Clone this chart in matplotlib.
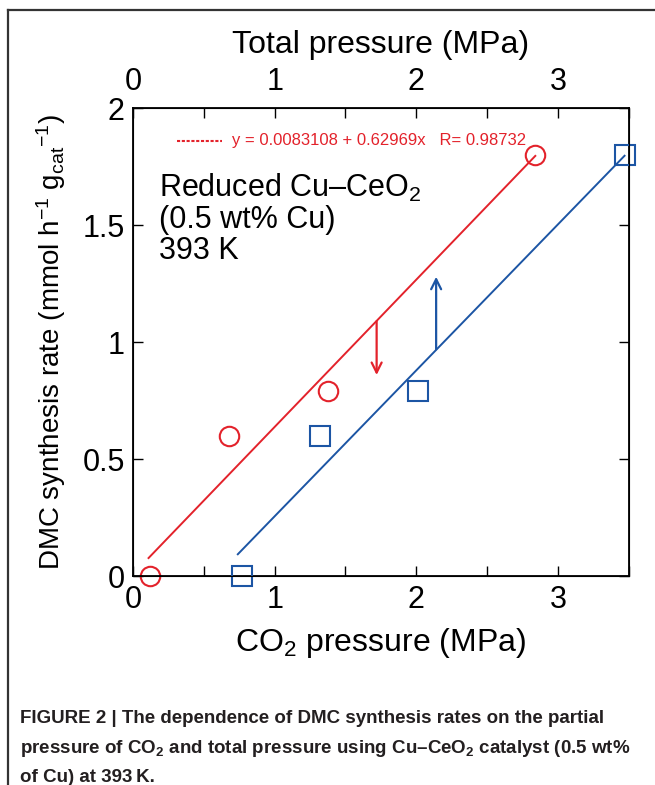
import numpy as np
import matplotlib
matplotlib.use('Agg')
import matplotlib.pyplot as plt
from matplotlib.lines import Line2D

plt.rcParams['font.family'] = ['Liberation Sans', 'DejaVu Sans']
plt.rcParams['mathtext.fontset'] = 'custom'
plt.rcParams['mathtext.rm'] = 'Liberation Sans'
plt.rcParams['mathtext.it'] = 'Liberation Sans:italic'
plt.rcParams['mathtext.default'] = 'regular'

RED = '#e3222b'
BLUE = '#1c55a4'

# data
co2_p = [0.12, 0.68, 1.38, 2.84]          # red circles, CO2 pressure (MPa)
total_p = [0.77, 1.32, 2.01, 3.47]        # blue squares, total pressure (MPa)
rate = [0.0, 0.6, 0.79, 1.8]              # DMC synthesis rate

red_fit = (0.0083108, 0.62969)            # intercept, slope
red_fit_x = [0.11, 2.84]
blue_fit = (-0.368, 0.624)
blue_fit_x = [0.74, 3.47]

red_arrow_x, red_arrow_y = 1.72, [1.09, 0.86]
blue_arrow_x, blue_arrow_y = 2.14, [0.97, 1.28]

xticks = [0, 0.5, 1, 1.5, 2, 2.5, 3, 3.5]
xticklabels = ['0', '', '1', '', '2', '', '3', '']
yticks = [0, 0.5, 1, 1.5, 2]
yticklabels = ['0', '0.5', '1', '1.5', '2']

fig = plt.figure(figsize=(6.55, 7.85), dpi=100)
ax = fig.add_axes([0.203, 0.266, 0.757, 0.596])

# fit lines
rx = np.array(red_fit_x)
ax.plot(rx, red_fit[0] + red_fit[1] * rx, color=RED, lw=1.4)
bx = np.array(blue_fit_x)
ax.plot(bx, blue_fit[0] + blue_fit[1] * bx, color=BLUE, lw=1.4)

ax.plot(co2_p, rate, 'o', ms=14, mfc='none', mec=RED, mew=1.5, clip_on=False)

ax.set_xlim(0, 3.5)
ax.set_ylim(0, 2)
ax.set_xticks(xticks)
ax.set_xticklabels(xticklabels)
ax.set_yticks(yticks)
ax.set_yticklabels(yticklabels)
ax.tick_params(direction='in', length=7, width=1, labelsize=22, right=True, pad=6)
for s in ax.spines.values():
    s.set_linewidth(1.3)

ax.set_xlabel('CO$_2$ pressure (MPa)', fontsize=23, labelpad=8)
ax.set_ylabel('DMC synthesis rate (mmol h$^{-1}$ g$_{cat}$$^{-1}$)', fontsize=20, labelpad=10)

# top axis: total pressure
ax2 = ax.twiny()
ax2.set_xlim(0, 3.5)
ax2.set_xticks(xticks)
ax2.set_xticklabels(xticklabels)
ax2.tick_params(direction='in', length=7, width=1, labelsize=22, pad=8)
ax2.plot(total_p, rate, 's', ms=14, mfc='none', mec=BLUE, mew=1.5, clip_on=False)
ax2.set_xlabel('Total pressure (MPa)', fontsize=23, labelpad=10)

# arrows
ax.annotate('', xy=(red_arrow_x, red_arrow_y[1]), xytext=(red_arrow_x, red_arrow_y[0]),
            arrowprops=dict(arrowstyle='->', color=RED, lw=1.6, mutation_scale=18,
                            shrinkA=0, shrinkB=0))
ax.annotate('', xy=(blue_arrow_x, blue_arrow_y[1]), xytext=(blue_arrow_x, blue_arrow_y[0]),
            arrowprops=dict(arrowstyle='->', color=BLUE, lw=1.6, mutation_scale=18,
                            shrinkA=0, shrinkB=0))

# fit legend
ax.plot([0.089, 0.18], [0.931, 0.931], transform=ax.transAxes, color=RED,
        lw=1.5, ls=(0, (1.5, 0.8)))
ax.text(0.20, 0.931, 'y = 0.0083108 + 0.62969x   R= 0.98732', transform=ax.transAxes,
        color=RED, fontsize=12, va='center')

ax.text(0.053, 0.865, 'Reduced Cu\u2013CeO$_2$\n(0.5 wt% Cu)\n393 K', transform=ax.transAxes,
        fontsize=22, va='top', linespacing=1.05)

# frame lines of the figure panel
fig.add_artist(Line2D([8 / 655, 1], [1 - 10 / 785, 1 - 10 / 785], transform=fig.transFigure,
                      color='#333333', lw=1.6))
fig.add_artist(Line2D([8 / 655, 8 / 655], [0, 1 - 10 / 785], transform=fig.transFigure,
                      color='#333333', lw=1.6))

caption = ('FIGURE 2 | The dependence of DMC synthesis rates on the partial\n'
           'pressure of CO$_2$ and total pressure using Cu\u2013CeO$_2$ catalyst (0.5 wt%\n'
           'of Cu) at 393\u2009K.')
fig.text(20 / 655, 1 - 710 / 785, caption, fontsize=13.5, fontweight='bold',
         family=['Liberation Sans Narrow', 'Liberation Sans', 'DejaVu Sans'],
         va='top', linespacing=1.75, color='#231f20')

fig.savefig('out.png', dpi=100)
